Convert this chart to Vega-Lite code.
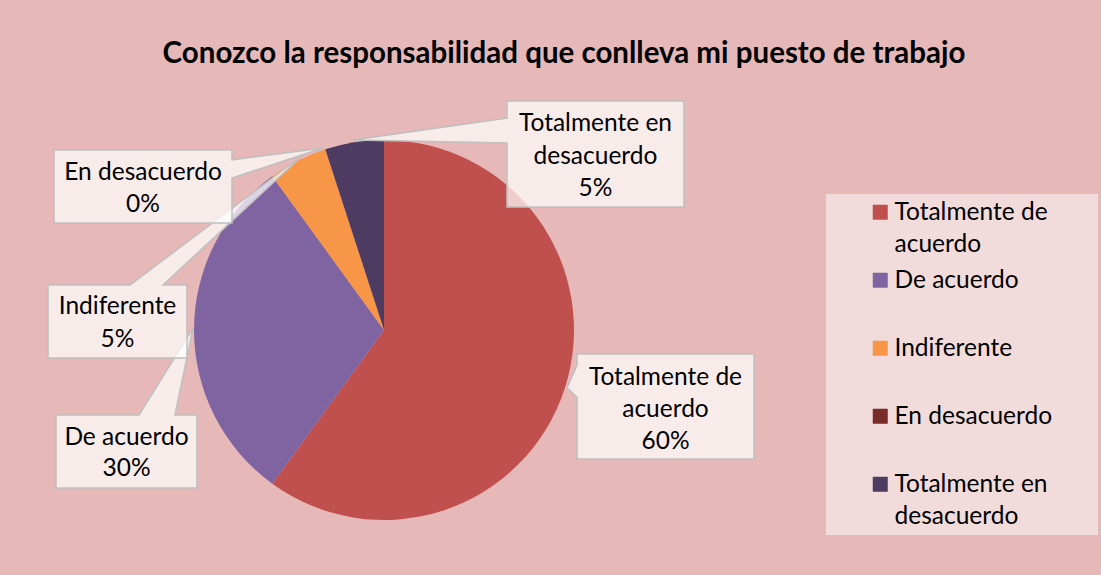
{
  "$schema": "https://vega.github.io/schema/vega-lite/v6.json",
  "width": 380,
  "height": 380,
  "autosize": {"type": "none"},
  "padding": {"left": 194, "top": 140, "right": 527, "bottom": 55},
  "background": "#E6B9B8",
  "title": {
    "text": "Conozco la responsabilidad que conlleva mi puesto de trabajo",
    "font": "Lato",
    "fontSize": 29.5,
    "fontWeight": "bold",
    "color": "#000000",
    "anchor": "middle",
    "dx": 180,
    "offset": 29
  },
  "data": {
    "values": [
      {"category": "Totalmente de acuerdo", "value": 60},
      {"category": "De acuerdo", "value": 30},
      {"category": "Indiferente", "value": 5},
      {"category": "En desacuerdo", "value": 0},
      {"category": "Totalmente en desacuerdo", "value": 5}
    ]
  },
  "transform": [
    {"window": [{"op": "row_number", "as": "rank"}]},
    {"calculate": "replace(replace(datum.category, 'de acuerdo', 'de\\nacuerdo'), 'en desacuerdo', 'en\\ndesacuerdo') + '\\n' + datum.value + '%'", "as": "lbl"}
  ],
  "layer": [
    {
      "mark": {"type": "arc", "stroke": null},
      "encoding": {
        "theta": {"field": "value", "type": "quantitative", "stack": true},
        "order": {"field": "rank", "type": "quantitative"},
        "color": {
          "field": "category",
          "type": "nominal",
          "sort": null,
          "scale": {
            "domain": ["Totalmente de acuerdo", "De acuerdo", "Indiferente", "En desacuerdo", "Totalmente en desacuerdo"],
            "range": ["#C0504D", "#8064A2", "#F79646", "#772C2A", "#4E3B62"]
          },
          "legend": {
            "orient": "none",
            "legendX": 632,
            "legendY": 54,
            "title": null,
            "fillColor": "#F2DCDB",
            "padding": 6,
            "symbolOffset": 36,
            "symbolType": "square",
            "symbolSize": 225,
            "symbolStrokeWidth": 0,
            "symbolOpacity": 1,
            "labelFont": "Lato",
            "labelFontSize": 24.5,
            "labelColor": "#000000",
            "labelOffset": 2,
            "rowPadding": 11,
            "labelBaseline": "alphabetic",
            "labelLimit": 400,
            "labelExpr": "datum.label == 'Totalmente de acuerdo' ? ['Totalmente de', 'acuerdo'] : datum.label == 'Totalmente en desacuerdo' ? ['Totalmente en', 'desacuerdo'] : datum.label == 'En desacuerdo' ? ['En desacuerdo\u2003\u2009\u2800', ' '] : [datum.label, ' ']"
          }
        }
      }
    },
    {
      "mark": {"type": "point", "filled": true, "size": 4, "fill": "#FFFFFF", "fillOpacity": 0.72, "stroke": "#BFBFBF", "strokeWidth": 1.5, "strokeOpacity": 1, "opacity": 1},
      "encoding": {
        "shape": {
          "field": "rank",
          "type": "nominal",
          "scale": {
            "domain": [1, 2, 3, 4, 5],
            "range": [
              "M193,24H370V129H193V67L183,58L193,35Z",
              "M-328,85H-245L-191,-2L-209,85H-187V158H-328Z",
              "M-336,-45H-254L-81,-175L-221,-45H-197V28H-336Z",
              "M-330,-180H-152V-170L-61,-182L-152,-152V-107H-330Z",
              "M123,-229H300V-123H123V-187L-31,-190L123,-212Z"
            ]
          },
          "legend": null
        }
      }
    },
    {
      "transform": [{"filter": "datum.category == 'Totalmente de acuerdo'"}],
      "mark": {"type": "text", "font": "Lato", "fontSize": 24.5, "color": "#000000", "align": "center", "baseline": "alphabetic", "lineBreak": "\n", "lineHeight": 32, "dx": 281.5, "dy": 55},
      "encoding": {"text": {"field": "lbl", "type": "nominal"}}
    },
    {
      "transform": [{"filter": "datum.category == 'De acuerdo'"}],
      "mark": {"type": "text", "font": "Lato", "fontSize": 24.5, "color": "#000000", "align": "center", "baseline": "alphabetic", "lineBreak": "\n", "lineHeight": 31, "dx": -257.5, "dy": 115},
      "encoding": {"text": {"field": "lbl", "type": "nominal"}}
    },
    {
      "transform": [{"filter": "datum.category == 'Indiferente'"}],
      "mark": {"type": "text", "font": "Lato", "fontSize": 24.5, "color": "#000000", "align": "center", "baseline": "alphabetic", "lineBreak": "\n", "lineHeight": 33, "dx": -266.5, "dy": -16},
      "encoding": {"text": {"field": "lbl", "type": "nominal"}}
    },
    {
      "transform": [{"filter": "datum.category == 'En desacuerdo'"}],
      "mark": {"type": "text", "font": "Lato", "fontSize": 24.5, "color": "#000000", "align": "center", "baseline": "alphabetic", "lineBreak": "\n", "lineHeight": 32, "dx": -241, "dy": -150},
      "encoding": {"text": {"field": "lbl", "type": "nominal"}}
    },
    {
      "transform": [{"filter": "datum.category == 'Totalmente en desacuerdo'"}],
      "mark": {"type": "text", "font": "Lato", "fontSize": 24.5, "color": "#000000", "align": "center", "baseline": "alphabetic", "lineBreak": "\n", "lineHeight": 32.5, "dx": 211.5, "dy": -199},
      "encoding": {"text": {"field": "lbl", "type": "nominal"}}
    }
  ],
  "config": {
    "view": {"stroke": null},
    "style": {"guide-label": {"lineHeight": 32, "dy": 8}}
  }
}
